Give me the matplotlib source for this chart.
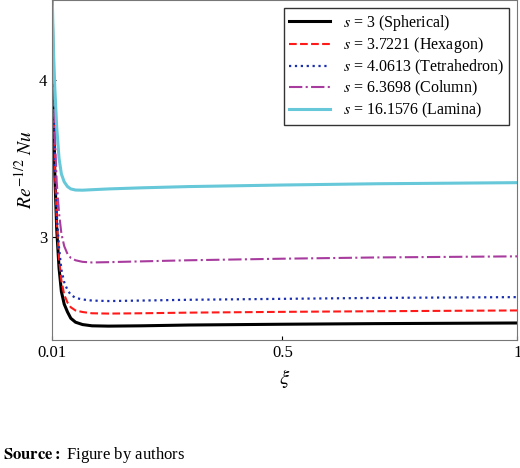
import matplotlib
matplotlib.use("Agg")
import matplotlib.pyplot as plt

plt.rcParams["font.family"] = ["Liberation Serif", "DejaVu Serif"]
plt.rcParams["mathtext.fontset"] = "stix"

# values
xi = [0.010, 0.013, 0.016, 0.020, 0.025, 0.030, 0.036, 0.043, 0.050, 0.060, 0.075,
      0.095, 0.13, 0.2, 0.3, 0.5, 0.7, 1.0]
nu_sph = [4.60, 3.90, 3.40, 3.05, 2.80, 2.65, 2.57, 2.52, 2.48, 2.455, 2.44,
          2.432, 2.430, 2.432, 2.437, 2.442, 2.446, 2.450]
nu_hex = [4.60, 3.95, 3.45, 3.10, 2.86, 2.72, 2.63, 2.58, 2.55, 2.53, 2.52,
          2.512, 2.510, 2.512, 2.516, 2.521, 2.525, 2.530]
nu_tet = [4.60, 4.00, 3.50, 3.15, 2.93, 2.79, 2.71, 2.66, 2.63, 2.61, 2.60,
          2.593, 2.590, 2.593, 2.598, 2.604, 2.610, 2.615]
nu_col = [4.60, 4.10, 3.65, 3.35, 3.15, 3.02, 2.94, 2.89, 2.865, 2.85, 2.84,
          2.836, 2.838, 2.843, 2.850, 2.860, 2.868, 2.875]
nu_lam = [4.60, 4.20, 3.95, 3.70, 3.50, 3.40, 3.35, 3.32, 3.305, 3.298, 3.297,
          3.300, 3.305, 3.312, 3.320, 3.330, 3.338, 3.345]

series = [
    (nu_sph, "$s$ = 3 (Spherical)", "black", "-", 2.2),
    (nu_hex, "$s$ = 3.7221 (Hexagon)", "#ff1a1a", "--", 1.5),
    (nu_tet, "$s$ = 4.0613 (Tetrahedron)", "#1a2fb0", ":", 1.6),
    (nu_col, "$s$ = 6.3698 (Column)", "#a83c9e", "-.", 1.5),
    (nu_lam, "$s$ = 16.1576 (Lamina)", "#66c8d8", "-", 2.2),
]

fig = plt.figure(figsize=(5.2, 4.68), dpi=100)
ax = fig.add_axes([0.1, 0.273, 0.895, 0.727])
for y, lab, c, ls, lw in series:
    ax.plot(xi, y, color=c, ls=ls, lw=lw, label=lab)

ax.set_xlim(0.01, 1)
ax.set_ylim(2.34, 4.51)
ax.set_xticks([0.01, 0.5, 1])
ax.set_xticklabels(["0.01", "0.5", "1"])
ax.set_yticks([3, 4])
ax.tick_params(labelsize=12, direction="in", length=3)
ax.set_xlabel(r"$\xi$", fontsize=15)
ax.set_ylabel(r"$Re^{-1/2}\ Nu$", fontsize=14, labelpad=2)
for sp in ax.spines.values():
    sp.set_color("#777777")
ax.legend(loc="upper right", fontsize=11.5, frameon=True, fancybox=False,
          edgecolor="black", handlelength=2.6, borderpad=0.3, labelspacing=0.15)

fig.text(0.005, 0.02, r"$\bf{Source:}$ Figure by authors", fontsize=12)
fig.savefig("out.png", dpi=100)
